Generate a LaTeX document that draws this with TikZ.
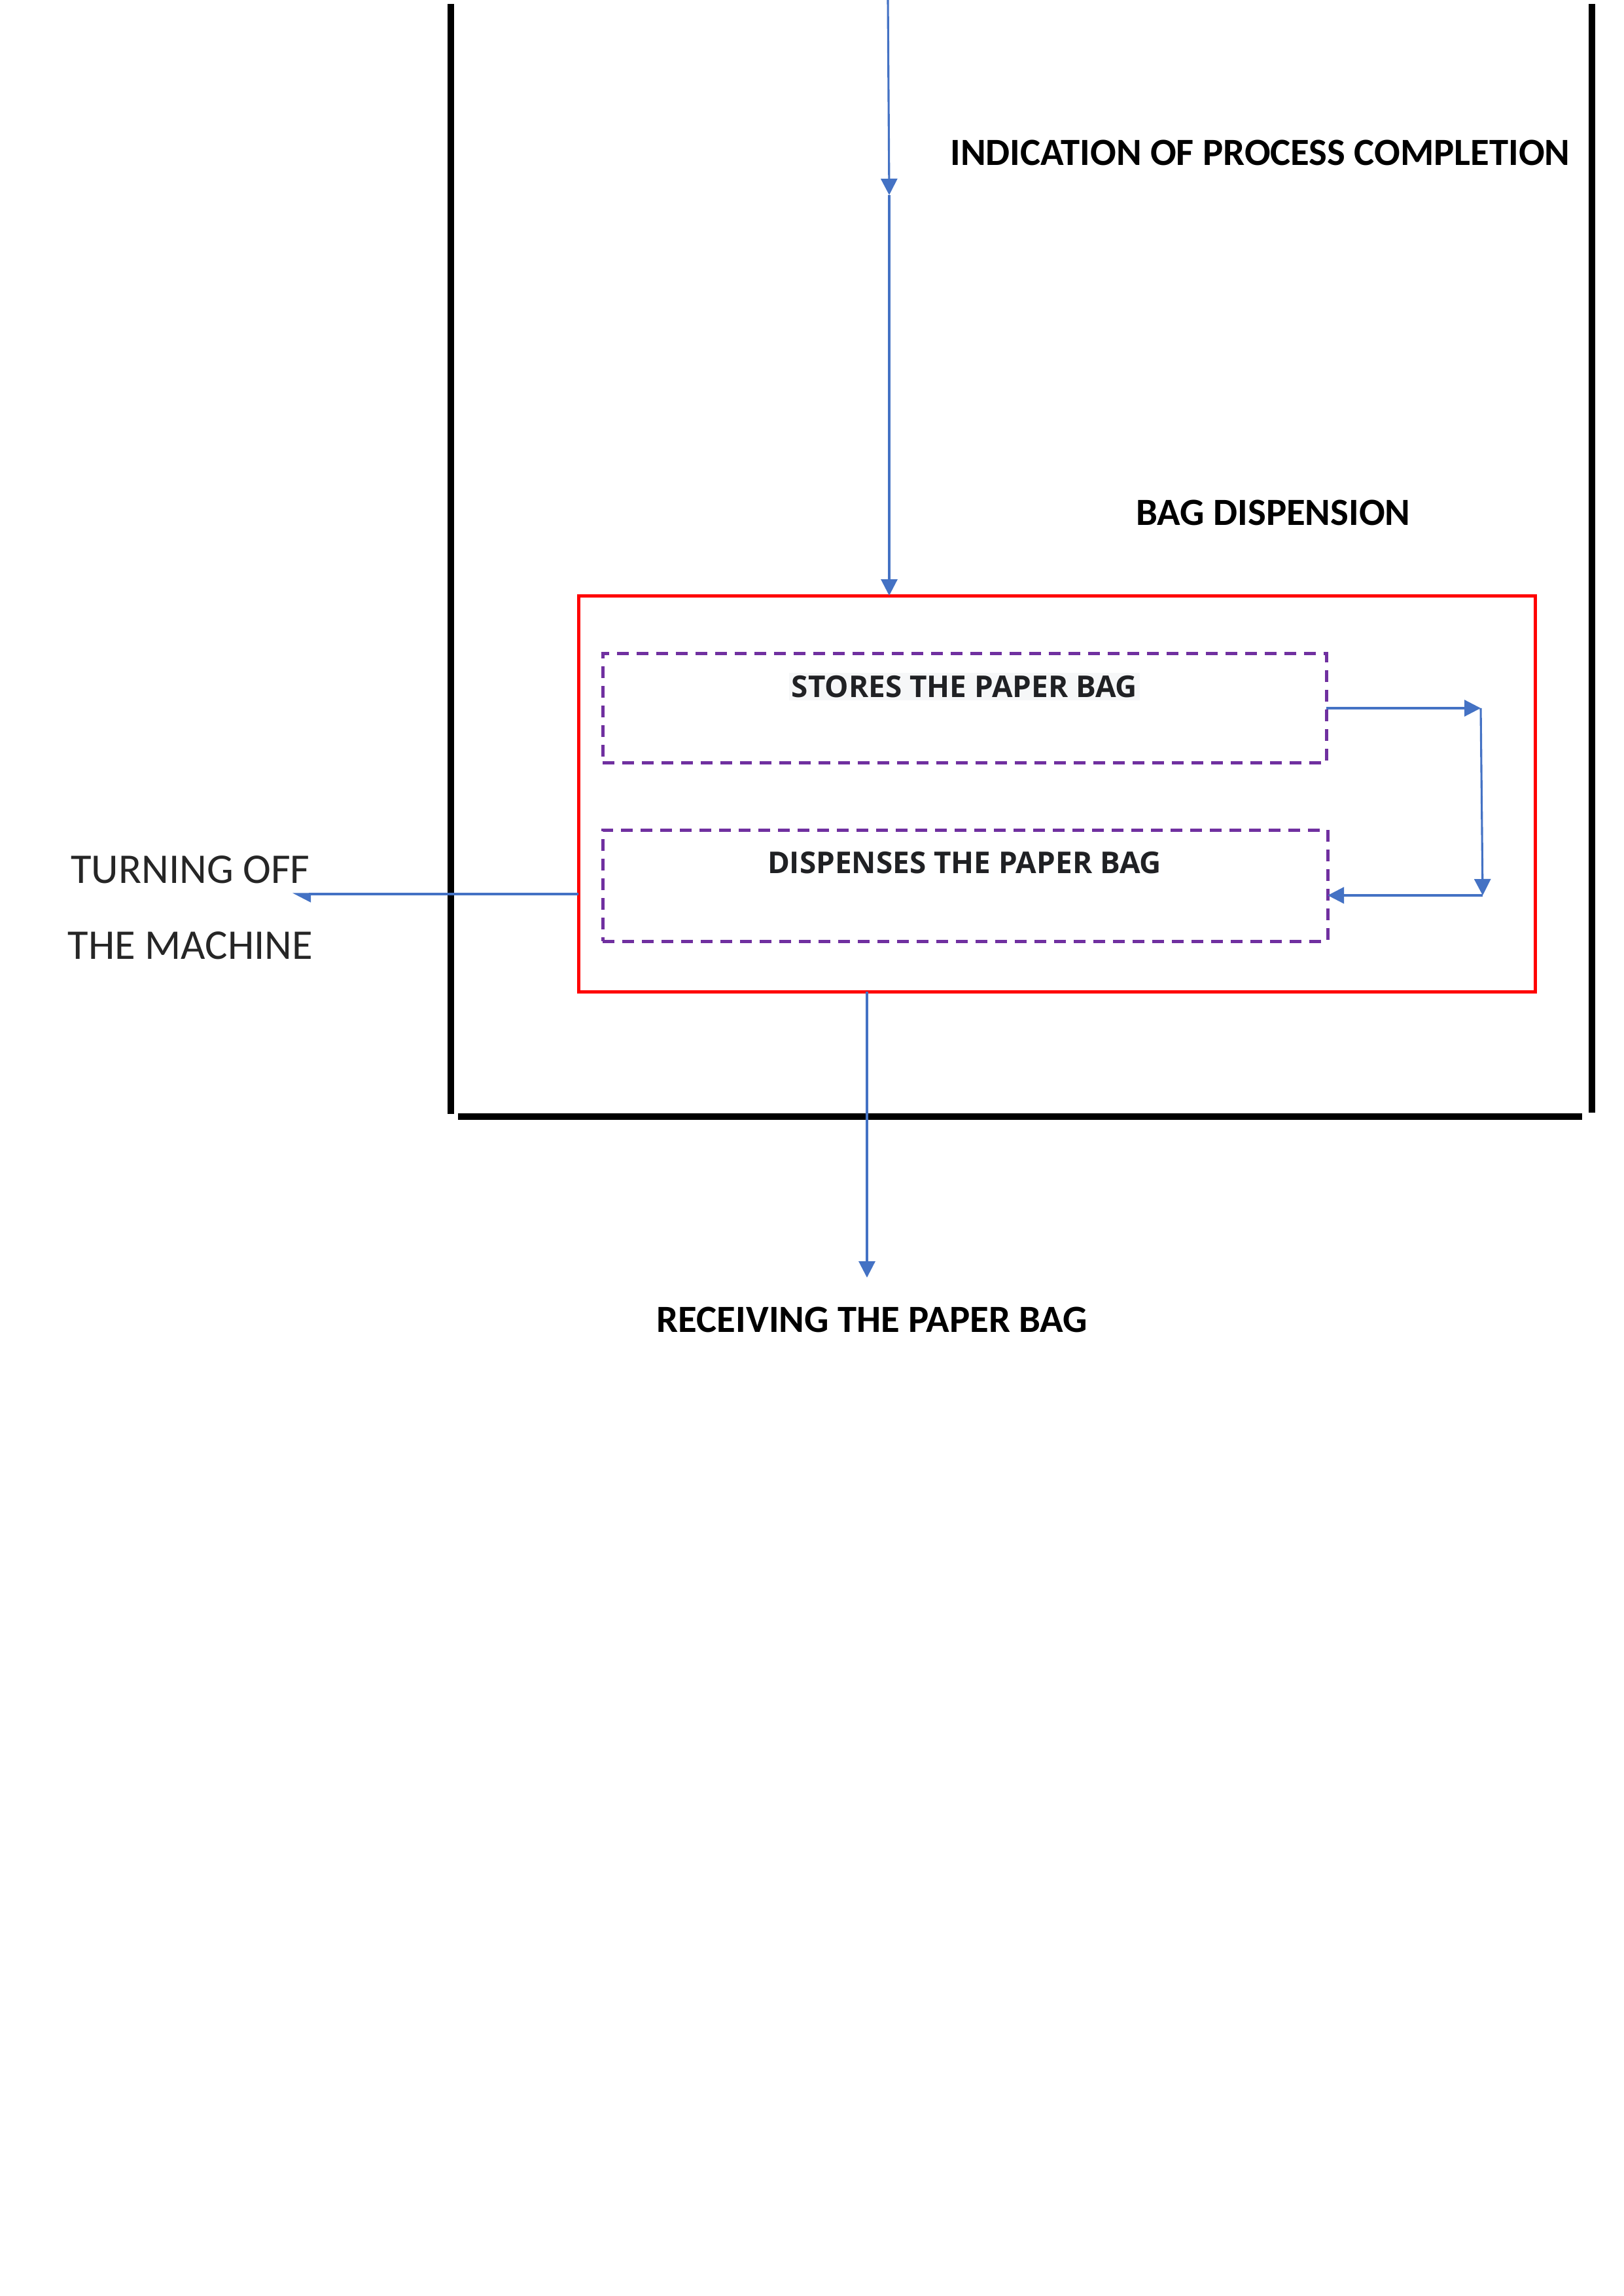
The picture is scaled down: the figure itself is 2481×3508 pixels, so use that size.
\documentclass[tikz,border=0pt]{standalone}
\usepackage{fontspec}
\setmainfont{Carlito}
\newfontfamily\osans{Open Sans}
\usetikzlibrary{arrows.meta}
\definecolor{arrowblue}{HTML}{4472C4}
\definecolor{boxred}{HTML}{FF0000}
\definecolor{dashpurple}{HTML}{7030A0}
\definecolor{txtgray}{HTML}{202124}
\definecolor{lblgray}{HTML}{262626}
\definecolor{hlgray}{HTML}{F6F7F8}
\tikzset{
  frame/.style={line width=2.2pt, black},
  arr/.style={arrowblue, line width=0.75pt, -{Triangle[length=6pt,width=6pt]}},
  harr/.style={arrowblue, line width=0.75pt, -{Triangle[length=6pt,width=6pt,harpoon]}},
  redbox/.style={draw=boxred, line width=1.2pt, inner sep=0pt, outer sep=0pt, anchor=north west},
  dashbox/.style={draw=dashpurple, line width=1.2pt, dash pattern=on 4.3pt off 2.9pt, inner sep=0pt, outer sep=0pt, anchor=north west},
  boldlabel/.style={font=\fontsize{14.1}{17}\selectfont\bfseries, text=black, inner sep=0pt},
  innerlabel/.style={font=\osans\fontsize{11}{13}\selectfont\bfseries, text=txtgray, inner sep=1pt},
  plainlabel/.style={font=\fontsize{15.5}{18}\selectfont, text=lblgray, inner sep=0pt}
}
\begin{document}
\begin{tikzpicture}[x=0.23994pt,y=-0.23994pt]
\useasboundingbox[fill=white] (0,0) rectangle (2481,3508);
% machine frame
\draw[frame] (689,6) -- (689,1702);
\draw[frame] (2433,6) -- (2433,1700);
\draw[frame, line width=2.6pt] (700,1706) -- (2418,1706);
% boxes
\node[redbox, minimum width=351.0pt, minimum height=145.2pt] (red) at (884,910) {};
\node[dashbox, minimum width=265.4pt, minimum height=40.3pt] (box1) at (921,998) {};
\node[dashbox, minimum width=265.9pt, minimum height=40.8pt] (box2) at (921,1268) {};
% texts
\node[boldlabel] (ind) at (1926,233) {INDICATION OF PROCESS COMPLETION};
\node[boldlabel] (bagd) at (1946,783) {BAG DISPENSION};
\node[boldlabel] (recvtxt) at (1333,2016) {RECEIVING THE PAPER BAG};
\node[innerlabel, fill=hlgray] (stores) at (1474,1049) {STORES THE PAPER BAG};
\node[innerlabel] (disp) at (1474,1318) {DISPENSES THE PAPER BAG};
\node[plainlabel] (toff1) at (291,1329) {TURNING OFF};
\node[plainlabel] (toff2) at (291,1445) {THE MACHINE};
% coordinates
\coordinate (top) at (1357,0);
\coordinate (mid) at (1359,298);
\coordinate (c1) at (2263,1082);
\coordinate (c2) at (2266,1368);
\coordinate (toff) at (447,1366);
\coordinate (recv) at (1325,1952);
% connectors
\draw[arr] (top) -- (mid);
\draw[arr] (mid) -- (mid |- red.north);
\draw[arr] (box1.east) -- (box1.east -| c1);
\draw[arr] (box1.east -| c1) -- (c2);
\draw[arr] (c2) -- (c2 -| box2.east);
\draw[harr] (toff -| red.west) -- (toff);
\draw[arr] (recv |- red.south) -- (recv);
\end{tikzpicture}
\end{document}
